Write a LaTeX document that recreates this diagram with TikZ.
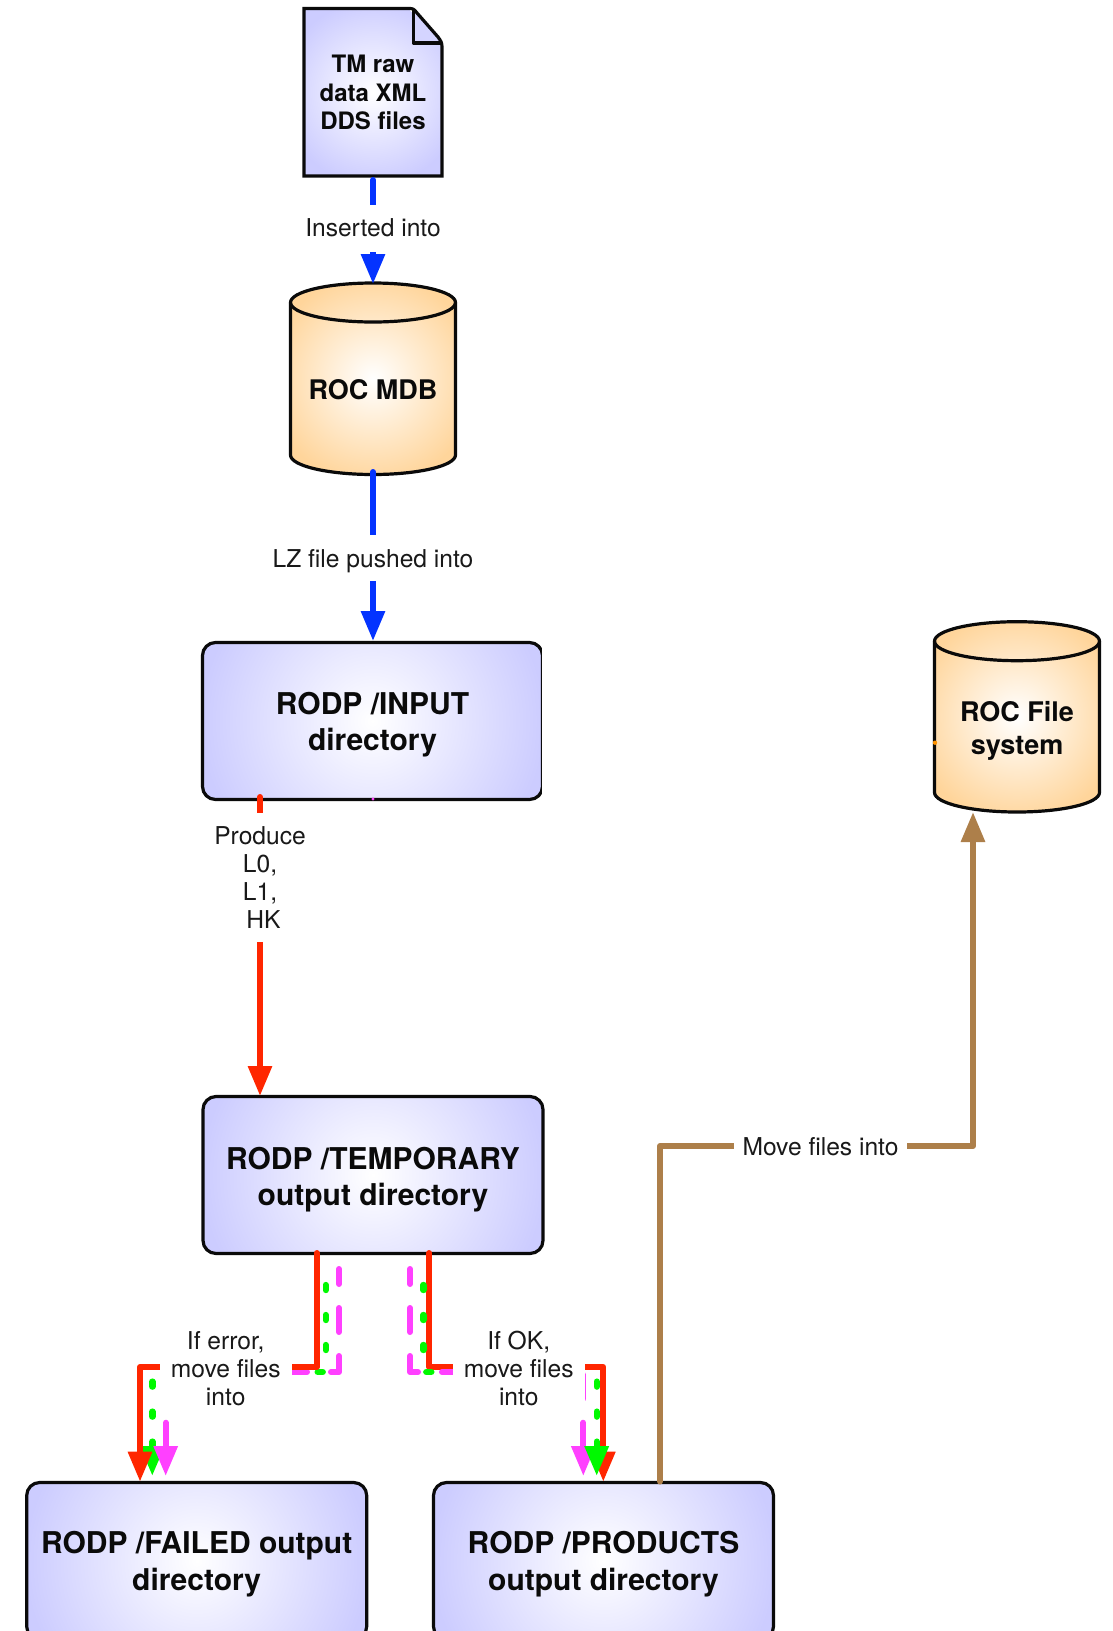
\documentclass[tikz,border=0pt]{standalone}
\usepackage{fontspec}
\setmainfont{TeX Gyre Heros}
\usetikzlibrary{arrows.meta}
\definecolor{cblue}{HTML}{0433FF}
\definecolor{cred}{HTML}{FF2600}
\definecolor{cgreen}{HTML}{00F900}
\definecolor{cmag}{HTML}{FF40FF}
\definecolor{cbrown}{HTML}{AD7F4A}
\definecolor{corange}{HTML}{FF9300}
\definecolor{lav}{HTML}{CCCCFF}
\definecolor{tan}{HTML}{FFD59B}
\definecolor{ink}{HTML}{0A0A0A}
\newcommand{\storeshape}[3]{% left, top, bottom
  \path[draw=ink,line width=3.2pt,line join=round,fill=tan,
    path picture={\shade[inner color=white,outer color=tan] (path picture bounding box.center) circle (105pt);}]
    (#1,#2+19.5) arc[start angle=180,end angle=0,x radius=82.5pt,y radius=19.5pt]
    -- (#1+165,#3-19.5) arc[start angle=0,end angle=-180,x radius=82.5pt,y radius=19.5pt] -- cycle;
  \draw[ink,line width=3.2pt] (#1,#2+19.5) arc[start angle=180,end angle=360,x radius=82.5pt,y radius=19.5pt];
}
\tikzset{
  x=1pt,y=-1pt,
  hd/.style={-{Triangle[length=30pt,width=23pt]}},
  flow/.style={line width=6pt,line cap=round,line join=round},
  dotsg/.style={flow,line width=6.4pt,cgreen,dash pattern=on 5pt off 25pt,dash phase=15pt},
  dashm/.style={flow,cmag,dash pattern=on 24pt off 24pt,dash phase=9pt},
  dirbox/.style={draw=ink,line width=3.2pt,rounded corners=13pt,minimum width=340pt,minimum height=157pt,
    inner sep=0pt,outer sep=0pt,fill=lav,
    path picture={\shade[inner color=white,outer color=lav] (path picture bounding box.center) circle (172pt);}},
  dirtext/.style={inner sep=0pt,align=center,text=ink,font=\fontsize{30}{36.5}\selectfont\bfseries},
  storetext/.style={inner sep=0pt,align=center,text=ink,font=\fontsize{27}{33}\selectfont\bfseries},
  lbl/.style={fill=white,inner sep=0pt,outer sep=0pt,align=center,text=black!90,font=\fontsize{24.6}{28}\selectfont},
  lblone/.style={lbl,text depth=0pt},
}
\begin{document}
\begin{tikzpicture}
\useasboundingbox (0,0) rectangle (1113,1631);
% document
\path[fill=lav,path picture={\shade[inner color=white,outer color=lav] (path picture bounding box.center) circle (92pt);}]
  (304,8.5) -- (408,8.5) -- (442,46) -- (442,176) -- (304,176) -- cycle;
\path[fill=lav!85!white] (413.5,9) -- (441,43) -- (413.5,43) -- cycle;
\draw[ink,line width=3.2pt,miter limit=4] (304,8.5) -- (409,8.5) .. controls (413,8.5) and (414,9) .. (417,13) -- (438,37) .. controls (441,41) and (442,43) .. (442,47) -- (442,176) -- (304,176) -- cycle;
\draw[ink,line width=3.2pt,line join=round] (413.5,10) -- (413.5,43) -- (440,43);
\node[align=center,text=ink,font=\fontsize{24}{28.5}\selectfont\bfseries] (tm) at (373,92.5) {TM raw\\data XML\\DDS files};
% stores
\storeshape{290.5}{283}{474.5}
\node[storetext] (mdbt) at (373,390) {ROC MDB};
\storeshape{934.5}{621.7}{812}
\node[storetext] (fst) at (1017,730.5) {ROC File\\system};
% boxes
\node[dirbox] (input) at (372.5,721) {};
\node[dirtext] (inputt) at (372.5,724.5) {RODP /INPUT\\directory};
\node[dirbox] (temp) at (373,1175) {};
\node[dirtext] (tempt) at (373,1179.5) {RODP /TEMPORARY\\output directory};
\node[dirbox] (failed) at (196.7,1561) {};
\node[dirtext] (failedt) at (196.7,1564) {RODP /FAILED output\\directory};
\node[dirbox] (prod) at (603.5,1561) {};
\node[dirtext] (prodt) at (603.5,1564) {RODP /PRODUCTS\\output directory};
\fill[white] (542.2,638) rectangle (546,803);
\fill[cmag] (373,799) circle (1.6pt);
\fill[corange] (935,742.7) circle (2.2pt);
% coordinates
\coordinate (a1) at (373,180);
\coordinate (a2) at (373,284);
\coordinate (b1) at (373,472);
\coordinate (b2) at (373,641);
\coordinate (c1) at (260,797);
\coordinate (c2) at (260,1096);
\coordinate (er1) at (316.7,1253);
\coordinate (er2) at (316.7,1367);
\coordinate (er3) at (140,1367);
\coordinate (er4) at (140,1481.7);
\coordinate (eg1) at (325.7,1270);
\coordinate (eg2) at (325.7,1372);
\coordinate (eg3) at (152.3,1372);
\coordinate (eg4) at (152.3,1476);
\coordinate (em1) at (339,1269);
\coordinate (em2) at (339,1372);
\coordinate (em3) at (165.7,1372);
\coordinate (em4) at (165.7,1476);
\coordinate (or1) at (429.3,1253);
\coordinate (or2) at (429.3,1367);
\coordinate (or3) at (603.3,1367);
\coordinate (or4) at (603.3,1481.7);
\coordinate (og1) at (423.3,1270);
\coordinate (og2) at (423.3,1372);
\coordinate (og3) at (596.7,1372);
\coordinate (og4) at (596.7,1476);
\coordinate (om1) at (410,1269);
\coordinate (om2) at (410,1372);
\coordinate (om3) at (583.3,1372);
\coordinate (om4) at (583.3,1476);
\coordinate (m1) at (660,1481.5);
\coordinate (m2) at (660,1146);
\coordinate (m3) at (973,1146);
\coordinate (m4) at (973,812);
% connectors
\draw[flow,cblue,hd] (a1) -- (a2);
\draw[flow,cblue,hd] (b1) -- (b2);
\draw[flow,cred,hd] (c1) -- (c2);
\draw[dotsg,hd] (eg1) -- (eg2) -- (eg3) -- (eg4);
\draw[dashm,hd] (em1) -- (em2) -- (em3) -- (em4);
\draw[flow,cred,hd] (er1) -- (er2) -- (er3) -- (er4);
\draw[flow,cred,hd] (or1) -- (or2) -- (or3) -- (or4);
\draw[dashm,hd] (om1) -- (om2) -- (om3) -- (om4);
\draw[dotsg,hd] (og1) -- (og2) -- (og3) -- (og4);
\draw[flow,cbrown,hd] (m1) -- (m2) -- (m3) -- (m4);
% labels
\node[lblone,minimum width=150pt,minimum height=47pt] (l1) at (373,228) {Inserted into};
\node[lblone,minimum width=210pt,minimum height=46pt] (l2) at (373,558) {LZ file pushed into};
\node[lbl,minimum width=100pt,minimum height=129pt] (l3) at (260,877.5) {Produce\\L0,\\L1,\\\hspace*{7pt}HK};
\node[lbl,minimum width=132pt,minimum height=84pt] (l4) at (225.7,1369) {If error,\\move files\\into};
\node[lbl,minimum width=132pt,minimum height=84pt] (l5) at (518.7,1368.3) {If OK,\\move files\\into};
\node[lblone,minimum width=173pt,minimum height=34pt] (l6) at (820.5,1146.5) {Move files into};
\end{tikzpicture}
\end{document}
